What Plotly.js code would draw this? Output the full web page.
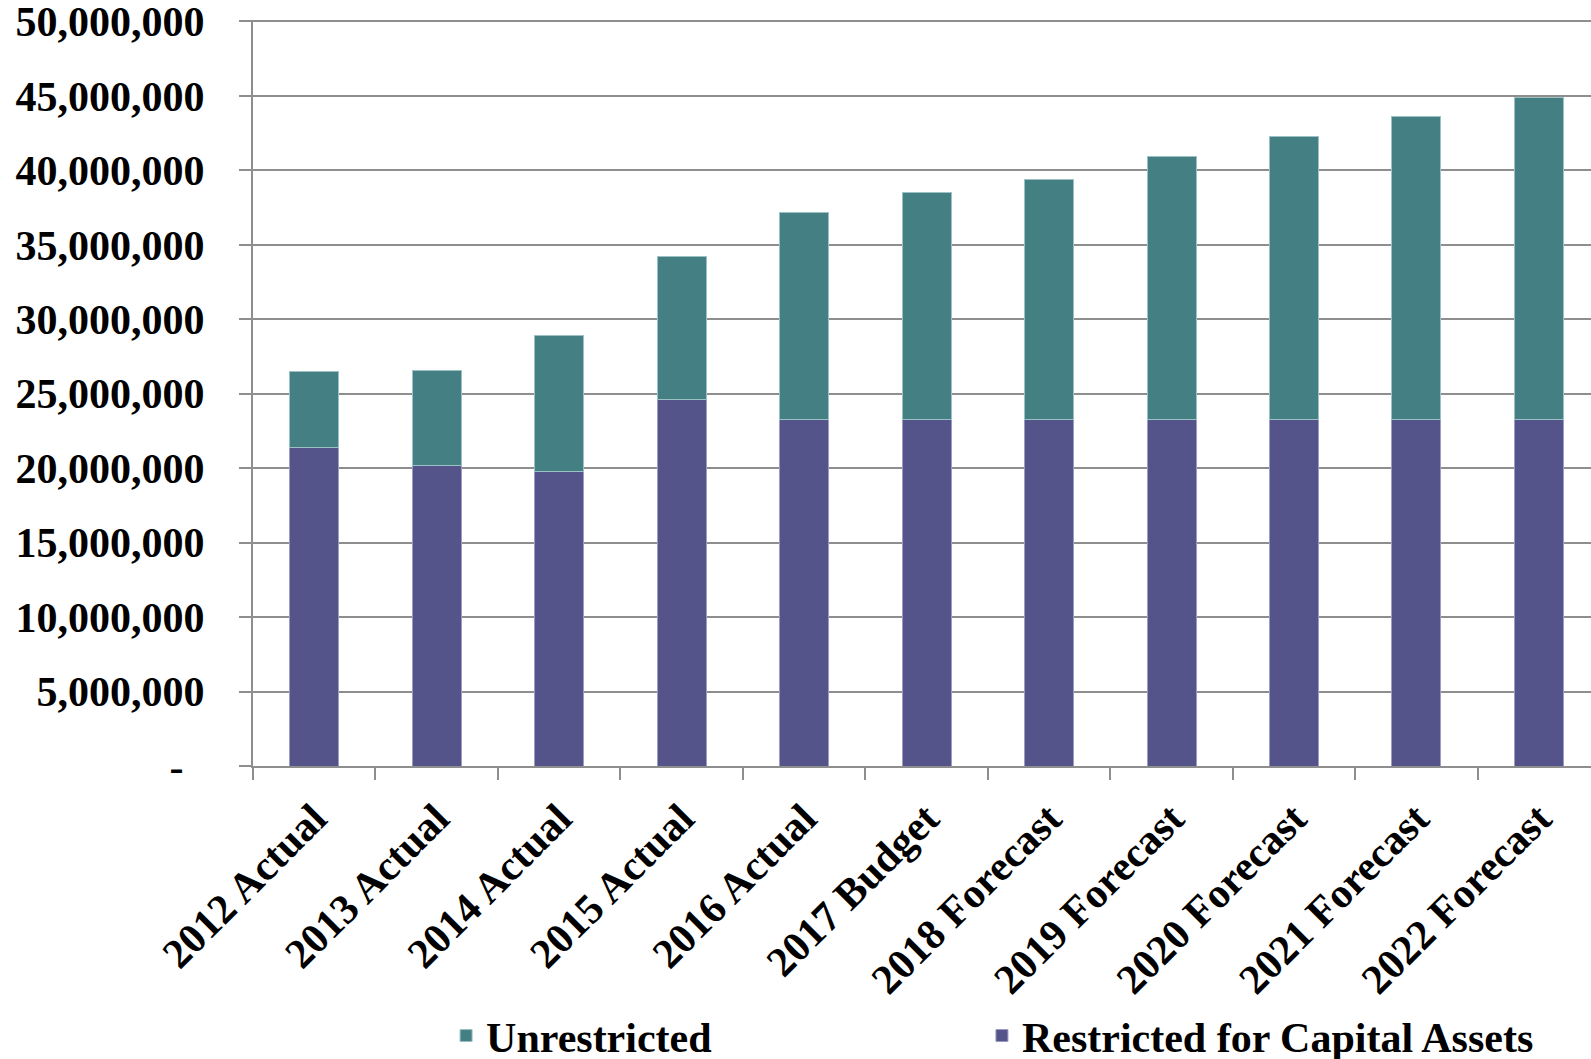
<!DOCTYPE html>
<html>
<head>
<meta charset="utf-8">
<script src="https://cdn.plot.ly/plotly-3.0.1.min.js"></script>
<style>
  html, body { margin: 0; padding: 0; background: #ffffff; overflow: hidden; }
  #chart { width: 1591px; height: 1100px; }
</style>
</head>
<body>
<div id="chart"></div>
<script>
// Net position by year: capital-asset restricted portion and unrestricted portion
const categories = [
  '2012 Actual', '2013 Actual', '2014 Actual', '2015 Actual', '2016 Actual',
  '2017 Budget', '2018 Forecast', '2019 Forecast', '2020 Forecast',
  '2021 Forecast', '2022 Forecast'
];
const restricted = [
  21420000, 20170000, 19810000, 24640000, 23260000,
  23260000, 23260000, 23260000, 23260000, 23260000, 23260000
];
const unrestricted = [
  5060000, 6380000, 9130000, 9600000, 13900000,
  15240000, 16110000, 17660000, 19040000, 20360000, 21620000
];
const yTickVals = [0, 5000000, 10000000, 15000000, 20000000, 25000000,
                   30000000, 35000000, 40000000, 45000000, 50000000];
const yTickText = ['-\u00a0\u00a0', '5,000,000', '10,000,000', '15,000,000', '20,000,000',
                   '25,000,000', '30,000,000', '35,000,000', '40,000,000',
                   '45,000,000', '50,000,000'];

const serif = '"Liberation Serif", "Times New Roman", Times, serif';
const gridGrey = '#8e8e8e';
const boldFont = { family: serif, size: 42, color: '#000000', weight: 'bold' };

const traces = [
  {
    type: 'bar',
    name: 'Restricted for Capital Assets',
    legend: 'legend2',
    x: categories,
    y: restricted,
    width: 0.4,
    marker: { color: '#54548a', line: { color: '#9c9cc4', width: 1 } },
    hoverinfo: 'x+y+name'
  },
  {
    type: 'bar',
    name: 'Unrestricted',
    legend: 'legend',
    x: categories,
    y: unrestricted,
    width: 0.4,
    marker: { color: '#447f84', line: { color: '#9cc2c5', width: 1 } },
    hoverinfo: 'x+y+name'
  }
];

const legendBase = {
  orientation: 'h',
  xanchor: 'left',
  y: -0.316,
  yanchor: 'top',
  font: boldFont,
  bgcolor: 'rgba(0,0,0,0)'
};

const layout = {
  width: 1591,
  height: 1100,
  margin: { l: 253, r: 0, t: 20, b: 334, pad: 0 },
  paper_bgcolor: '#ffffff',
  plot_bgcolor: '#ffffff',
  barmode: 'stack',
  font: boldFont,
  showlegend: true,
  legend: Object.assign({}, legendBase, { x: 0.1443 }),
  legend2: Object.assign({}, legendBase, { x: 0.5448 }),
  xaxis: {
    type: 'category',
    range: [-0.5, 10.425],
    tickangle: -45,
    tickson: 'boundaries',
    ticks: 'outside',
    ticklen: 12,
    tickwidth: 2,
    tickcolor: gridGrey,
    ticklabelstandoff: 9,
    showline: true,
    linecolor: gridGrey,
    linewidth: 2,
    showgrid: false,
    zeroline: false,
    automargin: false,
    tickfont: boldFont
  },
  yaxis: {
    range: [0, 50100000],
    tickmode: 'array',
    tickvals: yTickVals,
    ticktext: yTickText,
    ticks: 'outside',
    ticklen: 12,
    tickwidth: 2,
    tickcolor: gridGrey,
    ticklabelstandoff: 26,
    ticklabeloverflow: 'allow',
    showline: true,
    linecolor: gridGrey,
    linewidth: 2,
    showgrid: true,
    gridcolor: gridGrey,
    gridwidth: 2,
    zeroline: false,
    automargin: false,
    tickfont: boldFont
  }
};

Plotly.newPlot('chart', traces, layout, { displayModeBar: false, responsive: false });
</script>
</body>
</html>
